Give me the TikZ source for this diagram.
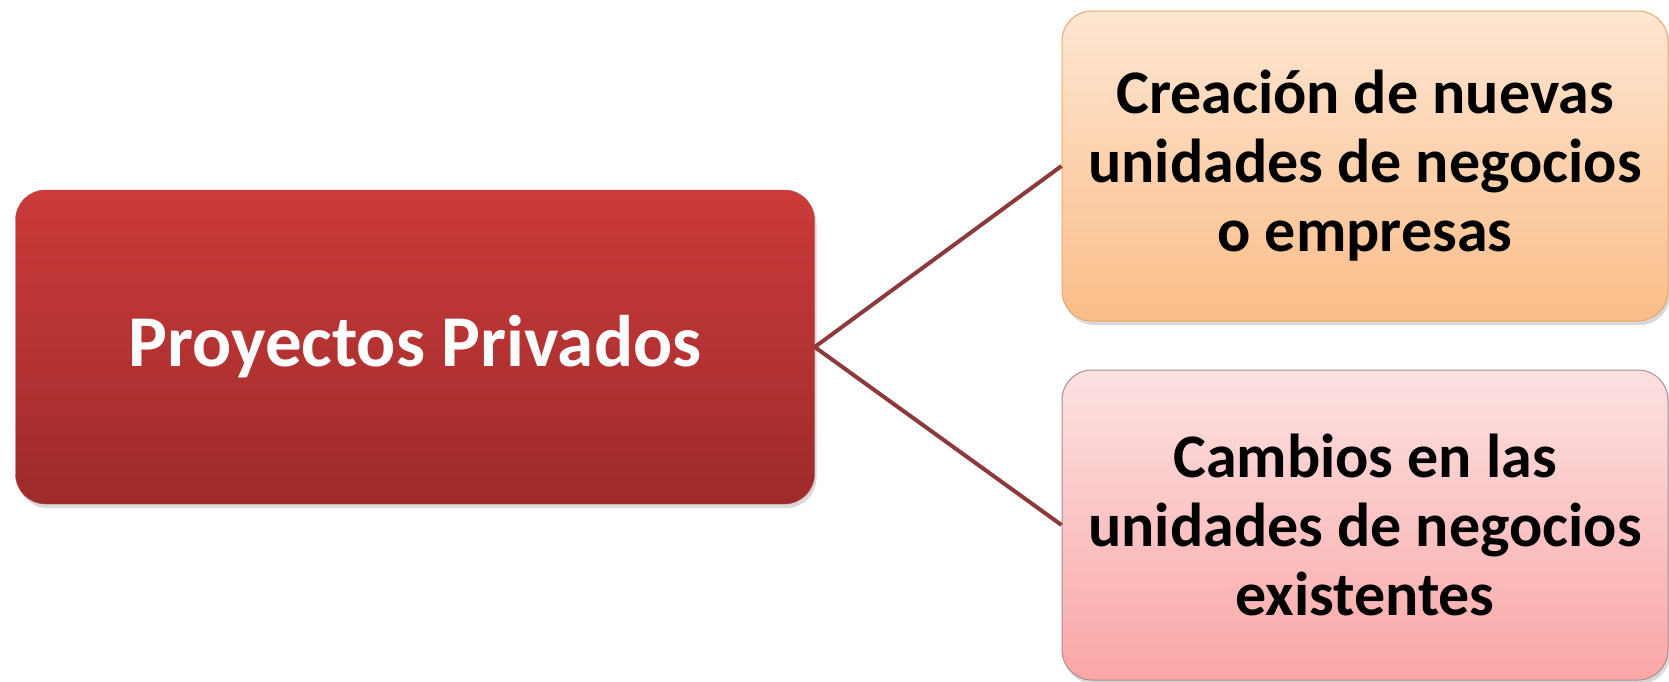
\documentclass[tikz,border=0pt]{standalone}
\usepackage{fontspec}
\setmainfont{Carlito}
\usetikzlibrary{shadows}
\definecolor{redtop}{HTML}{CB3B3A}
\definecolor{redbot}{HTML}{9E2B2B}
\definecolor{orangetop}{HTML}{FEE6D2}
\definecolor{orangebot}{HTML}{FABD88}
\definecolor{orangeline}{HTML}{EFA56A}
\definecolor{pinktop}{HTML}{FCE1E1}
\definecolor{pinkbot}{HTML}{FAA6A6}
\definecolor{pinkline}{HTML}{A88E8E}
\definecolor{linkred}{HTML}{8C3A3B}
\begin{document}
\begin{tikzpicture}[x=1pt,y=-1pt,
    box/.style={rounded corners=30pt, inner sep=0pt, align=center,
                drop shadow={shadow xshift=2pt, shadow yshift=-4pt, opacity=0.3}},
    mainbox/.style={box, top color=redtop, bottom color=redbot, draw=redbot!80,
                    text=white, minimum width=799pt, minimum height=314pt,
                    font=\bfseries\fontsize{73}{80}\selectfont},
    subbox/.style={box, minimum width=606pt, minimum height=310pt, line width=1pt,
                   font=\bfseries\fontsize{62}{69}\selectfont},
    link/.style={draw=linkred, line width=4pt}]
    \useasboundingbox (0,0) rectangle (1669,681);
    \node[mainbox] (proyectos) at (415,347) {Proyectos Privados};
    \node[subbox, top color=orangetop, bottom color=orangebot, draw=orangeline] (creacion) at (1365,166)
        {Creación de nuevas\\ unidades de negocios\\ o empresas};
    \node[subbox, top color=pinktop, bottom color=pinkbot, draw=pinkline] (cambios) at (1365,525)
        {Cambios en las\\ unidades de negocios\\ existentes};
    \draw[link] (proyectos.east) -- (creacion.west);
    \draw[link] (proyectos.east) -- (cambios.west);
\end{tikzpicture}
\end{document}
